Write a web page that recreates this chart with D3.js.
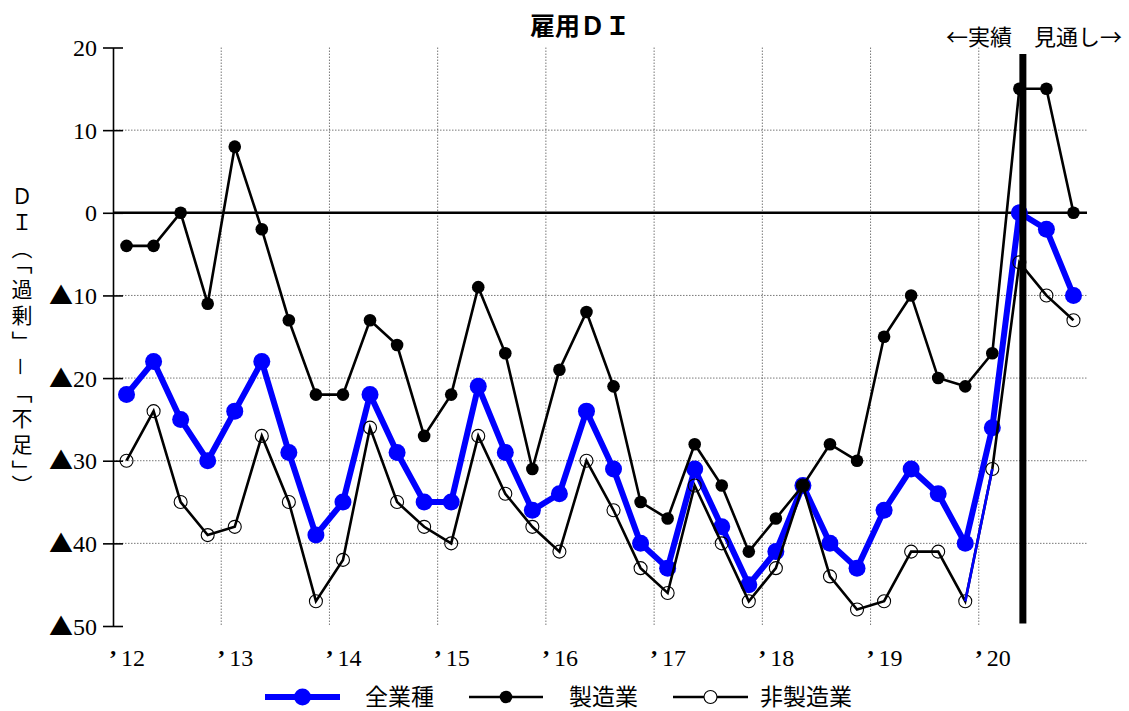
<!DOCTYPE html>
<html>
<head>
<meta charset="utf-8">
<script src="https://cdn.jsdelivr.net/npm/d3@7"></script>
<style>
  body { margin: 0; background: #fff; }
  svg { display: block; }
</style>
</head>
<body>
<svg id="chart" width="1129" height="711"></svg>
<script>
// ---- data ----
const years = ["’12", "’13", "’14", "’15", "’16", "’17", "’18", "’19", "’20"];
const quarters = ["1-3", "4-6", "7-9", "10-12"];
const periods = [
  "2012/1-3","2012/4-6","2012/7-9","2012/10-12",
  "2013/1-3","2013/4-6","2013/7-9","2013/10-12",
  "2014/1-3","2014/4-6","2014/7-9","2014/10-12",
  "2015/1-3","2015/4-6","2015/7-9","2015/10-12",
  "2016/1-3","2016/4-6","2016/7-9","2016/10-12",
  "2017/1-3","2017/4-6","2017/7-9","2017/10-12",
  "2018/1-3","2018/4-6","2018/7-9","2018/10-12",
  "2019/1-3","2019/4-6","2019/7-9","2019/10-12",
  "2020/1-3","2020/4-6","2020/7-9","2020/10-12"
];
const allIndustries = [
  -22, -18, -25, -30, -24, -18, -29, -39, -35, -22, -29, -35,
  -35, -21, -29, -36, -34, -24, -31, -40, -43, -31, -38, -45,
  -41, -33, -40, -43, -36, -31, -34, -40, -26, 0, -2, -10
];
const manufacturing = [
  -4, -4, 0, -11, 8, -2, -13, -22, -22, -13, -16, -27,
  -22, -9, -17, -31, -19, -12, -21, -35, -37, -28, -33, -41,
  -37, -33, -28, -30, -15, -10, -20, -21, -17, 15, 15, 0
];
const nonManufacturing = [
  -30, -24, -35, -39, -38, -27, -35, -47, -42, -26, -35, -38,
  -40, -27, -34, -38, -41, -30, -36, -43, -46, -33, -40, -47,
  -43, -33, -44, -48, -47, -41, -41, -47, -31, -6, -10, -13
];
const yTicks = [20, 10, 0, -10, -20, -30, -40, -50];
const gridValues = [10, -10, -20, -30, -40];
const seriesNames = ["全業種", "製造業", "非製造業"];
const titleText = "雇用ＤＩ";
const yAxisTitle = "ＤＩ（「過剰」－「不足」）";
const dividerNote = "←実績　見通し→";
const negativeMark = "▲";
const lastActualPeriod = "2020/4-6";
// segment of the non-manufacturing line drawn in blue (from 2019/10-12 to 2020/1-3)
const blueSegment = ["2019/10-12", "2020/1-3"];

// ---- layout ----
const svg = d3.select("#chart");
const plotLeft = 113, plotRight = 1087, plotTop = 47.5, plotBottom = 626;
const serif = "'Liberation Serif', 'Times New Roman', serif";
const cjk = "'Noto Sans CJK JP', sans-serif";
const BLUE = "#0000ff";

const x = d3.scaleBand().domain(periods).range([plotLeft, plotRight]).padding(0);
const bw = x.bandwidth();
const cx = p => x(p) + bw / 2;
const y = d3.scaleLinear().domain([-50, 20]).range([plotBottom, plotTop]);

// grid
const grid = svg.append("g");
grid.selectAll("line.h").data(gridValues).join("line")
  .attr("x1", plotLeft).attr("x2", plotRight)
  .attr("y1", d => y(d)).attr("y2", d => y(d))
  .attr("stroke", "#555").attr("stroke-width", 0.8).attr("stroke-dasharray", "1.5,1.5");
const yearStarts = years.slice(1).map((_, i) => periods[(i + 1) * quarters.length]);
grid.selectAll("line.v").data(yearStarts).join("line")
  .attr("x1", d => x(d)).attr("x2", d => x(d))
  .attr("y1", plotTop).attr("y2", plotBottom)
  .attr("stroke", "#555").attr("stroke-width", 0.8).attr("stroke-dasharray", "1.5,1.5");

// zero line
svg.append("line")
  .attr("x1", plotLeft).attr("x2", plotRight).attr("y1", y(0)).attr("y2", y(0))
  .attr("stroke", "#000").attr("stroke-width", 2.6);

// y axis: negative values carry a black triangle instead of a minus sign
const yAxis = d3.axisLeft(y).tickValues(yTicks).tickSize(0).tickFormat(d => "");
const ya = svg.append("g").attr("transform", `translate(${plotLeft},0)`).call(yAxis);
ya.attr("font-family", null).attr("font-size", null);
ya.select(".domain").attr("stroke", "#000").attr("stroke-width", 1.6);
ya.selectAll(".tick line").attr("x1", -10).attr("x2", 10).attr("stroke", "#000").attr("stroke-width", 1.6);
ya.selectAll(".tick text").attr("x", -16).attr("dy", "0.34em")
  .style("font-family", serif).style("font-size", "24px").attr("fill", "#000")
  .each(function (d) {
    const t = d3.select(this);
    if (d < 0) {
      t.append("tspan").style("font-family", cjk).style("font-size", "24px")
        .attr("dx", 0).text(negativeMark);
    }
    t.append("tspan").text(String(Math.abs(d)));
  });

// x labels (year)
const xl = svg.append("g");
years.forEach((yr, i) => {
  const x0 = x(periods[i * quarters.length]);
  const t = xl.append("text").attr("x", x0 - 4).attr("y", 666)
    .style("font-family", serif).style("font-size", "24px").attr("fill", "#000");
  t.append("tspan").text(yr.slice(0, 1)).attr("font-weight", "bold");
  t.append("tspan").attr("dx", 4).text(yr.slice(1));
});

// series lines
const line = d3.line().x(d => cx(d.p)).y(d => y(d.v));
const toPts = arr => arr.map((v, i) => ({ p: periods[i], v }));

const allPts = toPts(allIndustries);
const mfgPts = toPts(manufacturing);
const nonPts = toPts(nonManufacturing);

svg.append("path").attr("d", line(allPts)).attr("fill", "none")
  .attr("stroke", BLUE).attr("stroke-width", 6).attr("stroke-linejoin", "round");
svg.append("g").selectAll("circle").data(allPts).join("circle")
  .attr("cx", d => cx(d.p)).attr("cy", d => y(d.v)).attr("r", 8.5).attr("fill", BLUE);

svg.append("path").attr("d", line(mfgPts)).attr("fill", "none")
  .attr("stroke", "#000").attr("stroke-width", 2.6);
svg.append("g").selectAll("circle").data(mfgPts).join("circle")
  .attr("cx", d => cx(d.p)).attr("cy", d => y(d.v)).attr("r", 6.3).attr("fill", "#000");

svg.append("path").attr("d", line(nonPts)).attr("fill", "none")
  .attr("stroke", "#000").attr("stroke-width", 2.6);
svg.append("g").selectAll("circle").data(nonPts).join("circle")
  .attr("cx", d => cx(d.p)).attr("cy", d => y(d.v)).attr("r", 6.5)
  .attr("fill", "none").attr("stroke", "#000").attr("stroke-width", 1.1);

const segPts = nonPts.filter(d => blueSegment.includes(d.p));
svg.append("path").attr("d", line(segPts)).attr("fill", "none")
  .attr("stroke", BLUE).attr("stroke-width", 2.6);

// actual / outlook divider
const divX = x(lastActualPeriod) + bw * 0.63;
svg.append("line").attr("x1", divX).attr("x2", divX)
  .attr("y1", y(19.2)).attr("y2", y(-49.7))
  .attr("stroke", "#000").attr("stroke-width", 7);
svg.append("text").attr("x", 1034).attr("y", 45).attr("text-anchor", "middle")
  .style("font-family", cjk).style("font-size", "22px").attr("fill", "#000").text(dividerNote);

// title
svg.append("text").attr("x", 580).attr("y", 35).attr("text-anchor", "middle")
  .style("font-family", cjk).style("font-size", "25px").style("font-weight", "bold")
  .attr("fill", "#000").text(titleText);

// y axis title (vertical)
svg.append("text").attr("x", 22).attr("y", 186)
  .style("font-family", cjk).style("font-size", "21px").attr("fill", "#000")
  .style("writing-mode", "vertical-rl").style("letter-spacing", "4.8px")
  .text(yAxisTitle);

// legend
const legend = svg.append("g");
const ly = 697;
const items = [
  { name: seriesNames[0], x0: 265, x1: 340, tx: 365, color: BLUE, w: 6, r: 8.5, fill: BLUE, stroke: "none" },
  { name: seriesNames[1], x0: 469, x1: 543, tx: 569, color: "#000", w: 2.6, r: 6.3, fill: "#000", stroke: "none" },
  { name: seriesNames[2], x0: 673, x1: 748, tx: 760, color: "#000", w: 2.6, r: 6.5, fill: "#fff", stroke: "#000" }
];
items.forEach(it => {
  legend.append("line").attr("x1", it.x0).attr("x2", it.x1).attr("y1", ly).attr("y2", ly)
    .attr("stroke", it.color).attr("stroke-width", it.w);
  legend.append("circle").attr("cx", (it.x0 + it.x1) / 2).attr("cy", ly).attr("r", it.r)
    .attr("fill", it.fill).attr("stroke", it.stroke).attr("stroke-width", 1.1);
  legend.append("text").attr("x", it.tx).attr("y", ly + 8)
    .style("font-family", cjk).style("font-size", "23px").attr("fill", "#000").text(it.name);
});
</script>
</body>
</html>
